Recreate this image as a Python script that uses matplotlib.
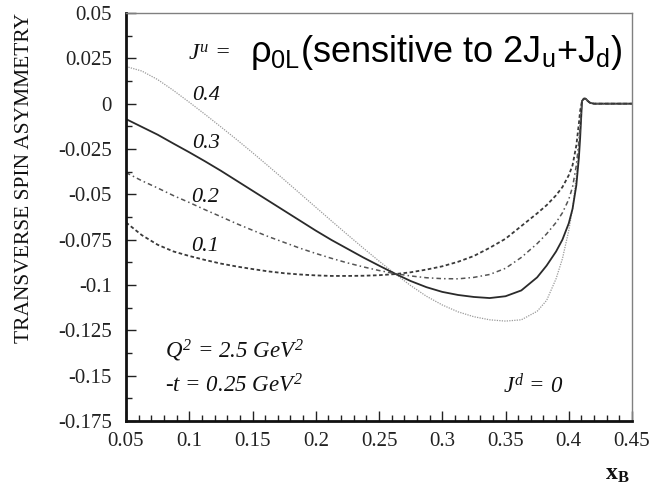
import matplotlib
matplotlib.use("Agg")
import matplotlib.pyplot as plt
from matplotlib.ticker import MultipleLocator, FixedLocator

plt.rcParams['mathtext.fontset'] = 'custom'
plt.rcParams['mathtext.rm'] = 'Liberation Serif:italic'
plt.rcParams['mathtext.it'] = 'Liberation Serif:italic'
plt.rcParams['mathtext.sf'] = 'Liberation Sans'
plt.rcParams['mathtext.bf'] = 'Liberation Serif:bold'

SERIF = 'Liberation Serif'
SANS = 'Liberation Sans'

# x_B sample points for the four J^u curves (before the common threshold tail)
x_b = [0.05, 0.0625, 0.075, 0.0875, 0.10, 0.1125, 0.125, 0.1375, 0.15, 0.1625,
       0.175, 0.1875, 0.20, 0.2125, 0.225, 0.2375, 0.25, 0.2625, 0.275, 0.2875,
       0.30, 0.3125, 0.325, 0.3375, 0.35, 0.3625, 0.375, 0.3825, 0.39, 0.395,
       0.40, 0.403, 0.406, 0.408, 0.409]

asym_ju04 = [0.0205, 0.018, 0.0133, 0.0073, 0.0008, -0.0059, -0.0128, -0.0198,
             -0.027, -0.0344, -0.0419, -0.0495, -0.0571, -0.0647, -0.0722, -0.0796,
             -0.0868, -0.0937, -0.1003, -0.1062, -0.111, -0.1148, -0.1175, -0.1192,
             -0.1199, -0.1192, -0.1145, -0.1085, -0.0965, -0.0855, -0.070, -0.058,
             -0.040, -0.024, -0.0135]
asym_ju03 = [-0.0085, -0.0128, -0.0171, -0.022, -0.0268, -0.0318, -0.037, -0.0425,
             -0.048, -0.0535, -0.059, -0.0645, -0.070, -0.0752, -0.080, -0.0848,
             -0.0893, -0.0937, -0.0978, -0.1012, -0.1038, -0.1055, -0.1066, -0.1072,
             -0.1062, -0.103, -0.0958, -0.0893, -0.0815, -0.075, -0.066, -0.058,
             -0.045, -0.030, -0.019]
asym_ju02 = [-0.038, -0.0425, -0.0465, -0.0507, -0.0545, -0.0585, -0.0623, -0.0662,
             -0.0698, -0.0733, -0.0765, -0.0797, -0.0826, -0.0853, -0.0878, -0.090,
             -0.092, -0.0937, -0.095, -0.096, -0.0965, -0.0966, -0.0958, -0.0942,
             -0.0908, -0.0848, -0.0772, -0.0718, -0.0655, -0.0602, -0.0528, -0.046,
             -0.034, -0.021, -0.012]
asym_ju01 = [-0.0655, -0.0725, -0.0778, -0.0815, -0.084, -0.0862, -0.0882, -0.0898,
             -0.0912, -0.0925, -0.0935, -0.0942, -0.0947, -0.095, -0.095, -0.0949,
             -0.0946, -0.094, -0.093, -0.0915, -0.0897, -0.0872, -0.084, -0.0795,
             -0.0745, -0.0675, -0.0605, -0.056, -0.0505, -0.046, -0.0395, -0.034,
             -0.023, -0.011, -0.004]

# shared tail above threshold
tail_x = [0.4105, 0.412, 0.4135, 0.415, 0.417, 0.42, 0.45]
tail_y = [0.0015, 0.0028, 0.0027, 0.0015, 0.0004, 0.0, 0.0]

ju_labels = ['0.4', '0.3', '0.2', '0.1']
label_pos = [(0.113, 0.0044), (0.113, -0.022), (0.1125, -0.0518), (0.1125, -0.0789)]

x_ticks = [0.05, 0.1, 0.15, 0.2, 0.25, 0.3, 0.35, 0.4, 0.45]
x_tick_labels = ['0.05', '0.1', '0.15', '0.2', '0.25', '0.3', '0.35', '0.4', '0.45']
y_ticks = [0.05, 0.025, 0, -0.025, -0.05, -0.075, -0.1, -0.125, -0.15, -0.175]
y_tick_labels = ['0.05', '0.025', '0', '-0.025', '-0.05', '-0.075', '-0.1',
                 '-0.125', '-0.15', '-0.175']

W, H = 650, 487
fig = plt.figure(figsize=(W / 100, H / 100), dpi=100)
ax = fig.add_axes([126 / W, 1 - 421 / H, (632 - 126) / W, (421 - 13) / H])

styles = [
    dict(color='#9a9a9a', lw=0.9, linestyle=(0, (1, 1))),
    dict(color='#2a2a2a', lw=1.3, linestyle='-'),
    dict(color='#555555', lw=1.1, linestyle=(0, (3, 2, 1, 2))),
    dict(color='#3a3a3a', lw=1.3, linestyle=(0, (2, 1.4))),
]
series = [asym_ju04, asym_ju03, asym_ju02, asym_ju01]
for ys, st in zip(series, styles):
    ax.plot(list(x_b) + tail_x, list(ys) + tail_y, **st)

ax.set_xlim(0.05, 0.45)
ax.set_ylim(-0.175, 0.05)

ax.xaxis.set_major_locator(FixedLocator(x_ticks))
ax.set_xticklabels(x_tick_labels)
ax.yaxis.set_major_locator(FixedLocator(y_ticks))
ax.set_yticklabels(y_tick_labels)
ax.xaxis.set_minor_locator(MultipleLocator(0.01))
ax.yaxis.set_minor_locator(MultipleLocator(0.0125))

ax.tick_params(which='both', direction='in', top=False, right=False,
               colors='#222222', width=1.0)
ax.tick_params(which='major', length=7)
ax.tick_params(which='minor', length=4)
ax.tick_params(axis='y', pad=10, labelsize=15)
ax.tick_params(axis='x', pad=8, labelsize=15)
for lbl in ax.get_xticklabels() + ax.get_yticklabels():
    lbl.set_family(SERIF)

for side in ['left', 'bottom']:
    ax.spines[side].set_linewidth(2.0)
    ax.spines[side].set_color('#111111')
for side in ['top', 'right']:
    ax.spines[side].set_linewidth(1.0)
    ax.spines[side].set_color('#808080')

for txt, (tx, ty) in zip(ju_labels, label_pos):
    ax.text(tx, ty, txt, family=SERIF, style='italic', fontsize=16,
            ha='center', va='center', color='#111111')

ax.text(0.099, 0.0243, r'$J^u$ =', family=SERIF, style='italic', fontsize=17,
        ha='left', va='baseline', color='#111111')
ax.text(0.148, 0.0232,
        r'$\mathsf{\rho_{0L}}$(sensitive to 2J$_\mathsf{u}$+J$_\mathsf{d}$)',
        family=SANS, fontsize=26, ha='left', va='baseline', color='black')

ax.text(0.0808, -0.140, r'$Q^2$ = 2.5 Ge$V^2$', family=SERIF,
        style='italic', fontsize=16.5, ha='left', va='baseline', color='#111111')
ax.text(0.0808, -0.1594, r'-$t$ = 0.25 Ge$V^2$', family=SERIF,
        style='italic', fontsize=16.5, ha='left', va='baseline', color='#111111')
ax.text(0.348, -0.1594, r'$J^d$ = 0', family=SERIF, style='italic', fontsize=16.5,
        ha='left', va='baseline', color='#111111')

fig.text(25 / W, 1 - 178 / H, 'TRANSVERSE SPIN ASYMMETRY', family=SERIF,
         fontsize=15.5, rotation=90, ha='center', va='center', color='#111111')
fig.text(617 / W, 1 - 480 / H, r'$\mathbf{x}_\mathbf{B}$', fontsize=17,
         ha='center', va='baseline', color='#111111')

fig.savefig('out.png', dpi=100)
